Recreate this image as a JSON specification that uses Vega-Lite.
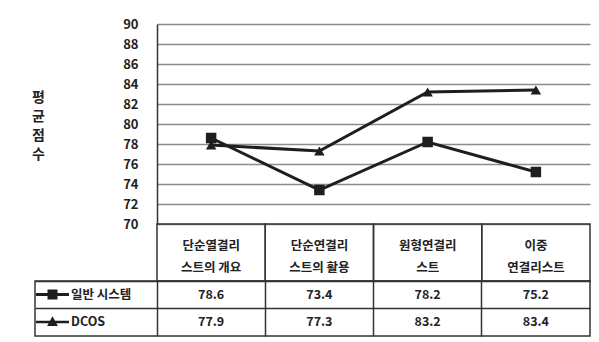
{
  "$schema": "https://vega.github.io/schema/vega-lite/v6.json",
  "padding": {"left": 31, "top": 18, "right": 5, "bottom": 2},
  "background": "white",
  "spacing": 0,
  "bounds": "flush",
  "config": {"view": {"stroke": null}, "font": "Noto Sans CJK KR"},
  "datasets": {
    "scores": [
      {"category": "단순열결리스트의 개요", "series": "일반 시스템", "score": 78.6},
      {"category": "단순연결리스트의 활용", "series": "일반 시스템", "score": 73.4},
      {"category": "원형연결리스트", "series": "일반 시스템", "score": 78.2},
      {"category": "이중연결리스트", "series": "일반 시스템", "score": 75.2},
      {"category": "단순열결리스트의 개요", "series": "DCOS", "score": 77.9},
      {"category": "단순연결리스트의 활용", "series": "DCOS", "score": 77.3},
      {"category": "원형연결리스트", "series": "DCOS", "score": 83.2},
      {"category": "이중연결리스트", "series": "DCOS", "score": 83.4}
    ],
    "cats": [
      {"category": "단순열결리스트의 개요", "label": "단순열결리\n스트의 개요"},
      {"category": "단순연결리스트의 활용", "label": "단순연결리\n스트의 활용"},
      {"category": "원형연결리스트", "label": "원형연결리\n스트"},
      {"category": "이중연결리스트", "label": "이중\n연결리스트"}
    ]
  },
  "resolve": {"scale": {"shape": "independent"}, "legend": {"shape": "independent"}},
  "vconcat": [
    {
      "width": 555,
      "height": 200,
      "data": {"name": "scores"},
      "encoding": {
        "x": {
          "field": "category", "type": "nominal",
          "sort": ["단순열결리스트의 개요", "단순연결리스트의 활용", "원형연결리스트", "이중연결리스트"],
          "scale": {"type": "band", "range": [122, 555], "paddingInner": 0, "paddingOuter": 0},
          "axis": null
        },
        "y": {
          "field": "score", "type": "quantitative",
          "scale": {"domain": [70, 90], "nice": false, "zero": false},
          "axis": {
            "values": [70, 72, 74, 76, 78, 80, 82, 84, 86, 88, 90],
            "offset": -122,
            "domain": true, "domainColor": "#333", "domainWidth": 1.5,
            "ticks": false,
            "grid": true, "gridColor": "#8c8c8c", "gridWidth": 1.5,
            "labelFontSize": 13, "labelFontWeight": "bold", "labelColor": "#222", "labelPadding": 19,
            "title": ["평", "균", "점", "수"],
            "titleAngle": 0, "titleFontSize": 14, "titleFontWeight": "bold", "titleColor": "#222",
            "titleLineHeight": 19, "titleX": -119, "titleY": 66, "titleAlign": "center", "titleBaseline": "top"
          }
        }
      },
      "layer": [
        {"mark": {"type": "line", "color": "#1e1e1e", "strokeWidth": 3}, "encoding": {"detail": {"field": "series"}}},
        {
          "mark": {"type": "point", "filled": true, "color": "#1e1e1e", "opacity": 1, "size": 110},
          "encoding": {
            "shape": {"field": "series", "type": "nominal", "scale": {"domain": ["일반 시스템", "DCOS"], "range": ["square", "triangle-up"]}, "legend": null}
          }
        }
      ]
    },
    {
      "width": 555,
      "height": 57,
      "data": {"name": "cats"},
      "encoding": {
        "x": {
          "field": "category", "type": "nominal",
          "sort": ["단순열결리스트의 개요", "단순연결리스트의 활용", "원형연결리스트", "이중연결리스트"],
          "scale": {"type": "band", "range": [122, 555], "paddingInner": 0, "paddingOuter": 0},
          "axis": null
        }
      },
      "layer": [
        {"mark": {"type": "rect", "fill": "white", "fillOpacity": 0, "stroke": "#333", "strokeWidth": 1.5}},
        {"mark": {"type": "text", "lineBreak": "\n", "lineHeight": 22, "dy": -7, "fontSize": 12.5, "fontWeight": "bold", "color": "#222"}, "encoding": {"text": {"field": "label"}}}
      ]
    },
    {
      "width": 555,
      "height": 55,
      "view": {"stroke": "#333", "strokeWidth": 1.5},
      "data": {"name": "scores"},
      "encoding": {
        "x": {
          "field": "category", "type": "nominal",
          "sort": ["단순열결리스트의 개요", "단순연결리스트의 활용", "원형연결리스트", "이중연결리스트"],
          "scale": {"type": "band", "range": [122, 555], "paddingInner": 0, "paddingOuter": 0},
          "axis": {"bandPosition": 0, "grid": true, "gridColor": "#333", "gridWidth": 1.5, "labels": false, "ticks": false, "domain": false, "title": null}
        },
        "y": {
          "field": "series", "type": "nominal",
          "sort": ["일반 시스템", "DCOS"],
          "scale": {"type": "band", "paddingInner": 0, "paddingOuter": 0},
          "axis": {"bandPosition": 0, "grid": true, "gridColor": "#333", "gridWidth": 1.5, "offset": -122, "ticks": true, "tickSize": 122, "tickColor": "#333", "tickWidth": 1.5, "labels": false, "domain": false, "title": null}
        }
      },
      "layer": [
        {"mark": {"type": "text", "fontSize": 12.5, "fontWeight": "bold", "color": "#222"}, "encoding": {"text": {"field": "score", "type": "quantitative", "format": ".1f"}}},
        {
          "mark": {"type": "point", "filled": true, "color": "#1e1e1e", "opacity": 0, "size": 729},
          "encoding": {
            "shape": {
              "field": "series", "type": "nominal",
              "scale": {"domain": ["일반 시스템", "DCOS"], "range": ["M-1.22,-0.11H1.22V0.11H-1.22Z M-0.37,-0.37H0.37V0.37H-0.37Z", "M-1.22,-0.09H1.22V0.09H-1.22Z M0,-0.42L0.4,0.3H-0.4Z"]},
              "legend": {
                "orient": "none", "legendX": 4, "legendY": 0, "title": null,
                "symbolSize": 729, "symbolOpacity": 1, "symbolFillColor": "#1e1e1e", "symbolStrokeColor": "#1e1e1e", "symbolStrokeWidth": 0,
                "labelFontSize": 12.5, "labelFontWeight": "bold", "labelColor": "#222", "labelOffset": 5,
                "rowPadding": 7.5, "padding": 0, "direction": "vertical"
              }
            }
          }
        }
      ]
    }
  ]
}
